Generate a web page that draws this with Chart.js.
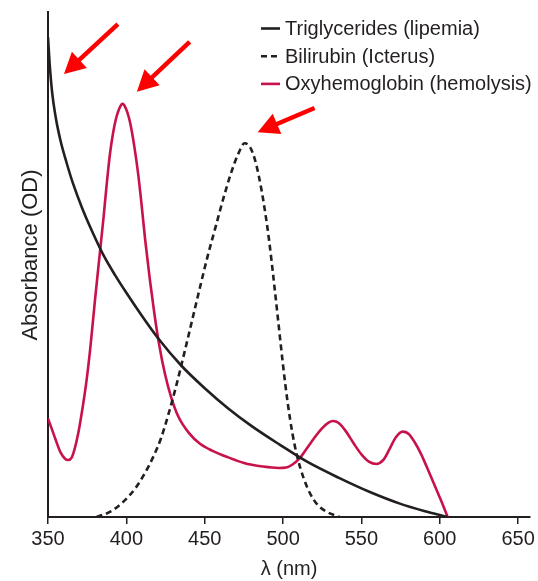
<!DOCTYPE html>
<html><head><meta charset="utf-8">
<script src="https://cdn.jsdelivr.net/npm/chart.js@4/dist/chart.umd.min.js"></script>
<style>html,body{margin:0;padding:0;background:#fff;}#wrap{width:538px;height:581px;}</style>
</head><body><div id="wrap"><canvas id="c" width="538" height="581"></canvas></div>
<script>
// ---- data ----
const xTicks = [350, 400, 450, 500, 550, 600, 650];
const seriesNames = ['Triglycerides (lipemia)', 'Bilirubin (Icterus)', 'Oxyhemoglobin (hemolysis)'];
const xTitle = 'λ (nm)';
const yTitle = 'Absorbance (OD)';

const trigX = [350, 351, 352.5, 355, 358, 362, 366, 372, 379, 386, 393, 400, 410, 420, 435, 450, 465, 480, 498, 515, 536, 555, 575, 590, 605];
const trigY = [0.95, 0.90, 0.845, 0.79, 0.745, 0.70, 0.66, 0.61, 0.56, 0.515, 0.478, 0.444, 0.398, 0.355, 0.30, 0.255, 0.215, 0.18, 0.143, 0.11, 0.077, 0.05, 0.026, 0.012, 0];

const biliX = [381, 390, 398, 406, 412, 417, 422, 427, 432, 437, 442, 447, 452, 457, 462, 467, 471, 475.5, 479, 482, 485, 488, 491, 494, 497, 500, 503, 506, 509, 513, 517, 522, 528, 536];
const biliY = [0, 0.011, 0.03, 0.058, 0.088, 0.118, 0.155, 0.205, 0.262, 0.325, 0.39, 0.455, 0.518, 0.575, 0.632, 0.683, 0.716, 0.74, 0.732, 0.708, 0.668, 0.615, 0.55, 0.47, 0.385, 0.30, 0.225, 0.165, 0.12, 0.078, 0.048, 0.024, 0.01, 0];

const hemoX = [350, 352, 355, 358, 361, 363, 365, 367, 369.3, 372, 374.5, 377, 380, 383, 385.5, 387.5, 389.5, 391.5, 393.5, 395.5, 397.6, 399.7, 401.7, 403.7, 405.5, 407.5, 409.5, 412, 415, 418, 421, 424.5, 428.5, 433, 440, 447, 455, 465, 475, 487, 497, 502, 506, 510.5, 515, 520, 525, 529, 532, 535.5, 540, 545, 550, 555, 559.5, 564, 568, 572, 576.3, 580, 584, 588, 592, 596, 600.5, 605];
const hemoY = [0.195, 0.178, 0.152, 0.128, 0.115, 0.113, 0.117, 0.135, 0.166, 0.215, 0.268, 0.335, 0.43, 0.52, 0.595, 0.66, 0.718, 0.76, 0.79, 0.809, 0.818, 0.809, 0.79, 0.76, 0.725, 0.68, 0.625, 0.549, 0.47, 0.40, 0.34, 0.285, 0.238, 0.20, 0.166, 0.145, 0.131, 0.118, 0.107, 0.10, 0.097, 0.098, 0.104, 0.116, 0.135, 0.157, 0.176, 0.187, 0.19, 0.186, 0.17, 0.146, 0.124, 0.109, 0.105, 0.113, 0.135, 0.158, 0.169, 0.165, 0.148, 0.125, 0.097, 0.068, 0.035, 0];

// annotation arrows (tail -> tip, in data units)
const arrowTailX = [394.6, 440.4, 520.1];
const arrowTailY = [0.976, 0.941, 0.81];
const arrowTipX  = [360.2, 406.7, 483.8];
const arrowTipY  = [0.877, 0.842, 0.762];

// ---- styles ----
const FONT = "'Liberation Sans', Arial, Helvetica, sans-serif";
const INK = '#231f20';
const RED = '#c8124a';

const pts = (xs, ys) => xs.map((x, i) => ({x: x, y: ys[i]}));

const legendPlugin = {
  id: 'customLegend',
  afterDraw(chart) {
    const ctx = chart.ctx;
    const rows = [35, 62.7, 90.4];
    ctx.save();
    chart.data.datasets.forEach((ds, i) => {
      const yb = rows[i];
      const yl = yb - 6.5;
      ctx.beginPath();
      ctx.strokeStyle = ds.borderColor;
      ctx.lineWidth = ds.borderWidth;
      ctx.setLineDash(ds.borderDash || []);
      ctx.moveTo(261, yl); ctx.lineTo(280, yl);
      ctx.stroke();
      ctx.setLineDash([]);
      ctx.fillStyle = INK;
      ctx.font = '20px ' + FONT;
      ctx.textBaseline = 'alphabetic';
      ctx.textAlign = 'left';
      ctx.fillText(ds.label, 285, yb);
    });
    ctx.restore();
  }
};

const yTitlePlugin = {
  id: 'yTitle',
  afterDraw(chart) {
    const ctx = chart.ctx;
    ctx.save();
    ctx.translate(31, 255);
    ctx.rotate(-Math.PI / 2);
    ctx.fillStyle = INK;
    ctx.font = '22px ' + FONT;
    ctx.textAlign = 'center';
    ctx.textBaseline = 'middle';
    ctx.fillText(yTitle, 0, 0);
    ctx.restore();
  }
};

const arrowPlugin = {
  id: 'arrows',
  afterDatasetsDraw(chart) {
    const {ctx, scales} = chart;
    ctx.save();
    ctx.strokeStyle = '#ff0000';
    ctx.fillStyle = '#ff0000';
    for (let i = 0; i < arrowTailX.length; i++) {
      const x1 = scales.x.getPixelForValue(arrowTailX[i]);
      const y1 = scales.y.getPixelForValue(arrowTailY[i]);
      const x2 = scales.x.getPixelForValue(arrowTipX[i]);
      const y2 = scales.y.getPixelForValue(arrowTipY[i]);
      const a = Math.atan2(y2 - y1, x2 - x1);
      const hl = 21, hw = 11;
      const bx = x2 - hl * Math.cos(a), by = y2 - hl * Math.sin(a);
      ctx.beginPath();
      ctx.lineWidth = 4.5;
      ctx.lineCap = 'butt';
      ctx.moveTo(x1, y1);
      ctx.lineTo(bx + 2 * Math.cos(a), by + 2 * Math.sin(a));
      ctx.stroke();
      ctx.beginPath();
      ctx.moveTo(x2, y2);
      ctx.lineTo(bx + hw * Math.sin(a), by - hw * Math.cos(a));
      ctx.lineTo(bx - hw * Math.sin(a), by + hw * Math.cos(a));
      ctx.closePath();
      ctx.fill();
    }
    ctx.restore();
  }
};

const common = {pointRadius: 0, fill: false, cubicInterpolationMode: 'monotone', borderWidth: 2.6};

new Chart(document.getElementById('c'), {
  type: 'line',
  data: {
    datasets: [
      Object.assign({label: seriesNames[0], data: pts(trigX, trigY), borderColor: INK}, common),
      Object.assign({label: seriesNames[1], data: pts(biliX, biliY), borderColor: INK, borderDash: [6, 4]}, common),
      Object.assign({label: seriesNames[2], data: pts(hemoX, hemoY), borderColor: RED}, common)
    ]
  },
  options: {
    responsive: false,
    animation: false,
    devicePixelRatio: 1,
    layout: {padding: {left: 0, top: 12, right: 7, bottom: 0}},
    plugins: {legend: {display: false}, tooltip: {enabled: false}},
    scales: {
      x: {
        type: 'linear', min: 350, max: 657.6,
        afterBuildTicks: s => { s.ticks = xTicks.map(v => ({value: v})); },
        afterFit: s => { s.height = 64; },
        ticks: {font: {family: FONT, size: 20}, color: INK, padding: 3, maxRotation: 0, autoSkip: false},
        grid: {display: true, drawOnChartArea: false, drawTicks: true, tickLength: 7, color: INK, lineWidth: 1.5},
        border: {display: true, color: INK, width: 2},
        title: {display: true, text: xTitle, font: {family: FONT, size: 20}, color: INK, padding: {top: 0, bottom: 0}}
      },
      y: {
        type: 'linear', min: 0, max: 1,
        afterFit: s => { s.width = 48; },
        ticks: {display: false},
        grid: {display: false},
        border: {display: true, color: INK, width: 2}
      }
    }
  },
  plugins: [arrowPlugin, legendPlugin, yTitlePlugin]
});
</script>
</body></html>
